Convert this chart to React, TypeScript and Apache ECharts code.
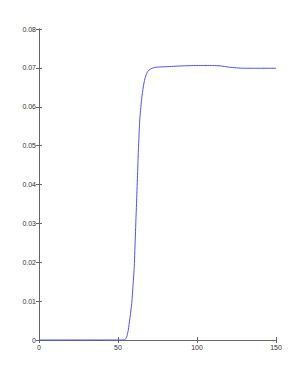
import React, { useEffect, useRef } from "react";
import * as echarts from "echarts";

const times = [0, 10, 20, 30, 40, 50, 54, 55.5, 56.5, 57.5, 58.7, 59.5, 60.3, 61, 61.8, 62.4, 62.9, 63.4, 63.9, 65, 66, 67, 68.2, 69.5, 71, 73, 75, 80, 85, 90, 100, 110, 115, 120, 125, 130, 140, 150];
const values = [0, 0, 0, 0, 0, 0, 0, 0.0008, 0.0026, 0.0055, 0.0094, 0.014, 0.0189, 0.027, 0.036, 0.043, 0.0488, 0.0535, 0.0574, 0.0621, 0.0651, 0.0672, 0.0686, 0.0694, 0.0698, 0.0701, 0.0702, 0.0703, 0.0704, 0.0705, 0.0706, 0.0706, 0.0705, 0.0702, 0.07, 0.0699, 0.0699, 0.0699];

const xTicks = { min: 0, max: 150, interval: 50 };
const yTicks = { min: 0, max: 0.08, interval: 0.01 };

export default function App() {
  const ref = useRef<HTMLDivElement>(null);
  useEffect(() => {
    if (!ref.current) return;
    const chart = echarts.init(ref.current, undefined, { renderer: "svg" });
    const axisLine = { show: true, lineStyle: { color: "#666", width: 1 } };
    const axisTick = { show: true, inside: true, length: 3, lineStyle: { color: "#666" } };
    const labelStyle = { fontFamily: "Liberation Sans", fontSize: 7, color: "#333" };
    chart.setOption({
      animation: false,
      backgroundColor: "#fff",
      grid: { left: 39, top: 29, right: 29, bottom: 42, containLabel: false },
      xAxis: [
        {
          type: "value", min: xTicks.min, max: xTicks.max, interval: xTicks.interval,
          axisLine, axisTick, splitLine: { show: false },
          axisLabel: { ...labelStyle, margin: 4, formatter: (v: number) => String(v) },
        },
        {
          type: "value", position: "top", min: xTicks.min, max: xTicks.max, interval: xTicks.interval,
          axisLine, axisTick, splitLine: { show: false }, axisLabel: { show: false },
        },
      ],
      yAxis: [
        {
          type: "value", min: yTicks.min, max: yTicks.max, interval: yTicks.interval,
          axisLine, axisTick, splitLine: { show: false },
          axisLabel: { ...labelStyle, margin: 3, formatter: (v: number) => (v === 0 ? "0" : v.toFixed(2)) },
        },
        {
          type: "value", position: "right", min: yTicks.min, max: yTicks.max, interval: yTicks.interval,
          axisLine, axisTick, splitLine: { show: false }, axisLabel: { show: false },
        },
      ],
      series: [
        {
          type: "line",
          data: times.map((t, i) => [t, values[i]]),
          showSymbol: false,
          smooth: 0.2,
          lineStyle: { color: "#4d4dff", width: 1 },
        },
      ],
    });
    return () => chart.dispose();
  }, []);
  return <div ref={ref} style={{ position: "fixed", left: 0, top: 0, width: 305, height: 382 }} />;
}
